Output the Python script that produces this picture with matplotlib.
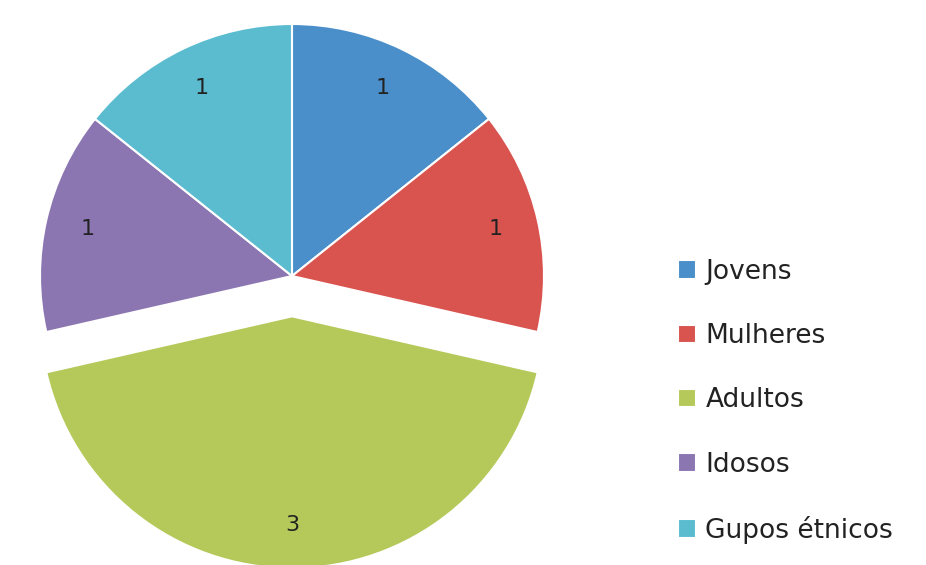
import matplotlib.pyplot as plt

categories = ["Jovens", "Mulheres", "Adultos", "Idosos", "Gupos étnicos"]
values = [1, 1, 3, 1, 1]
colors = ["#4A8FC9", "#D9534F", "#B5C95A", "#8B76B1", "#5BBCD0"]
explode = [0, 0, 0.16, 0, 0]

fig = plt.figure(figsize=(9.26, 5.65), dpi=100)
ax = fig.add_axes([0, 0, 1, 1])

wedges, texts, autotexts = ax.pie(
    values,
    colors=colors,
    explode=explode,
    startangle=90,
    counterclock=False,
    autopct=lambda p: f"{round(p * sum(values) / 100):d}",
    pctdistance=0.83,
    wedgeprops={"edgecolor": "white", "linewidth": 1.5},
    textprops={"fontsize": 16, "color": "#222222"},
)

# keep 1 data unit = 252 px, pie centre at (292, 276) px
ax.set_xlim(-292 / 252, (926 - 292) / 252)
ax.set_ylim(-(565 - 276) / 252, 276 / 252)
ax.set_aspect("equal")
ax.axis("off")

leg = fig.legend(
    wedges, categories,
    loc="upper left", bbox_to_anchor=(654 / 926, 1 - 235 / 565),
    frameon=False, fontsize=19, labelspacing=1.45,
    handlelength=0.7, handleheight=0.7, handletextpad=0.35,
)
for t in leg.get_texts():
    t.set_color("#222222")

fig.savefig("out.png", dpi=100)
